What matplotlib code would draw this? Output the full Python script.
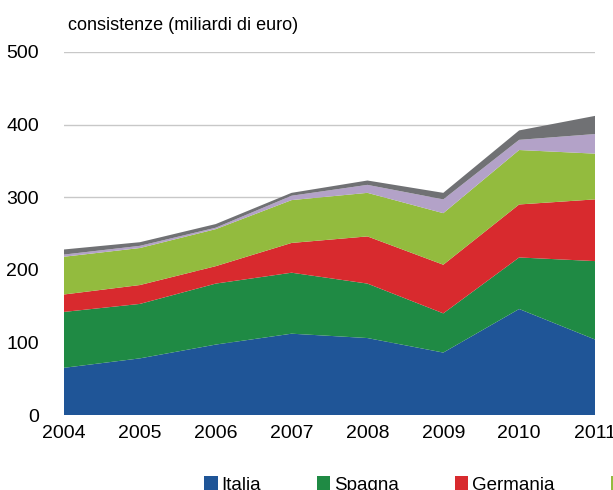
import numpy as np
import matplotlib
matplotlib.use('Agg')
import matplotlib.pyplot as plt
from matplotlib.patches import Patch

plt.rcParams['font.family'] = ['Liberation Sans', 'DejaVu Sans']

# consistenze per paese (miliardi di euro)
anni = [2004, 2005, 2006, 2007, 2008, 2009, 2010, 2011]
italia = [65, 78, 97, 112, 106, 86, 146, 104]
spagna = [77, 75, 84, 84, 75, 54, 71, 108]
germania = [24, 26, 24, 41, 65, 67, 73, 85]
francia = [52, 51, 51, 59, 60, 71, 75, 63]
altri_1 = [3, 3, 2, 6, 11, 19, 14, 27]
altri_2 = [7, 5, 5, 4, 6, 9, 13, 25]

nomi = ['Italia', 'Spagna', 'Germania', 'Francia', 'Paesi Bassi', 'altri']
colori = ['#1f5597', '#1f8a44', '#d82a2e', '#93bb3e', '#b3a2c8', '#707174']

fig = plt.figure(figsize=(6.13, 4.9), dpi=100)
ax = fig.add_axes([64/613, 75/490, 531/613, 363/490])

ax.stackplot(anni, italia, spagna, germania, francia, altri_1, altri_2,
             colors=colori, linewidth=0, zorder=2)

ax.set_xlim(2004, 2011)
ax.set_ylim(0, 500)
ax.set_yticks([0, 100, 200, 300, 400, 500])
ax.set_xticks(anni)
ax.grid(axis='y', color='#c8c8c8', linewidth=1, zorder=0)
ax.set_axisbelow(True)
for s in ax.spines.values():
    s.set_visible(False)
ax.tick_params(axis='both', length=0, labelsize=14)
ax.tick_params(axis='y', pad=18)
ax.tick_params(axis='x', pad=7)

fig.text(68/613, 1 - 25/490, 'consistenze (miliardi di euro)',
         fontsize=13, va='center', ha='left')

handles = [Patch(facecolor=c, edgecolor='none') for c in colori]
fig.legend(handles, nomi, loc='center left', ncol=6,
           bbox_to_anchor=(195/613, 5/490), frameon=False,
           handlelength=0.7, handleheight=0.7,
           handletextpad=0.2, columnspacing=3.0, borderpad=0,
           prop={'size': 13.5})

fig.savefig('out.png', dpi=100)
